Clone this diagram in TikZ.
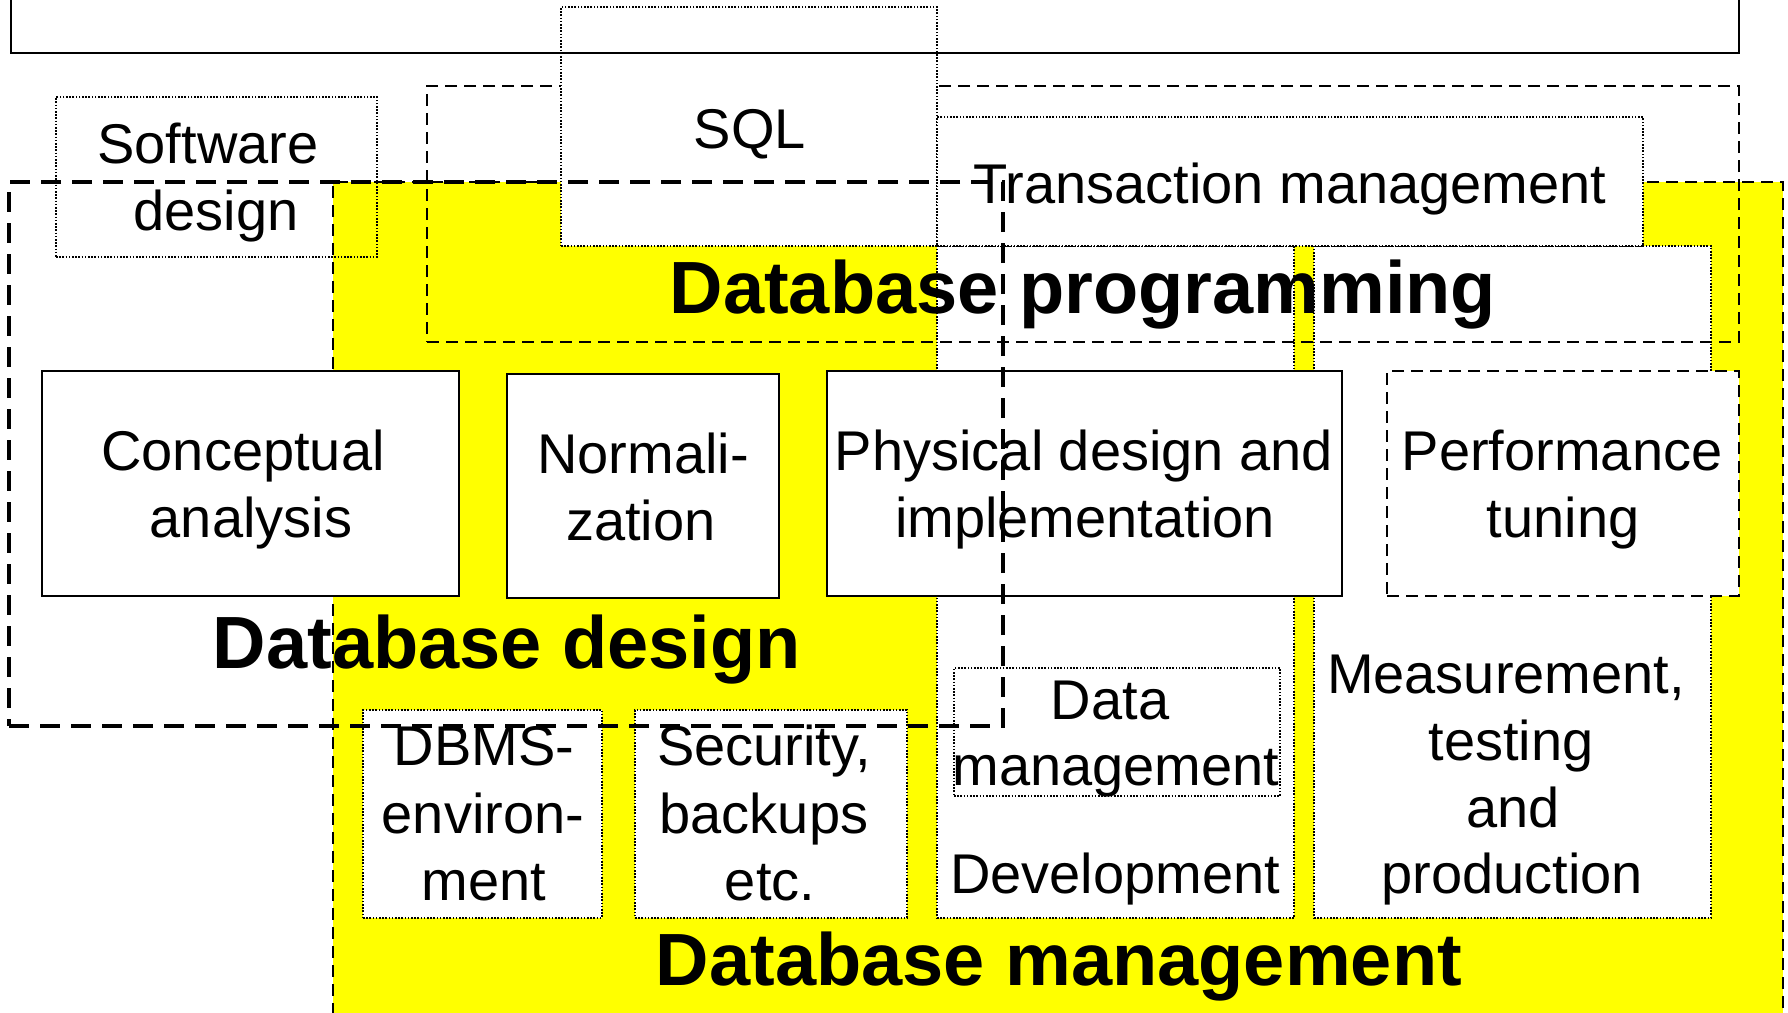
\documentclass[tikz,border=0pt]{standalone}
\usepackage{fontspec}
\setmainfont{Liberation Sans}
\usetikzlibrary{fit}
\definecolor{dbyellow}{RGB}{255,255,0}
\tikzset{
  boxbase/.style={inner sep=0pt, outer sep=0pt},
  dotbox/.style={boxbase, draw=black, line width=2.5pt, dash pattern=on 1.6pt off 1.6pt},
  thindash/.style={boxbase, draw=black, line width=2.6pt, dash pattern=on 12pt off 7pt},
  thickdash/.style={boxbase, draw=black, line width=3.3pt, dash pattern=on 20pt off 11pt},
  solidbox/.style={boxbase, draw=black, line width=2.8pt},
  wfill/.style={fill=white},
  txt/.style={inner sep=0pt, anchor=base, font=\fontsize{56}{67}\selectfont},
  ttl/.style={inner sep=0pt, anchor=base, font=\fontsize{74}{88}\selectfont\bfseries}
}
\begin{document}
\begin{tikzpicture}[x=1pt,y=-1pt]
\useasboundingbox[fill=white] (0,0) rectangle (1788,1012);
% Database management (yellow)
\node[thindash, fill=dbyellow, fit={(333,182) (1783,1040)}] (dbm) {};
% development / measurement columns
\node[dotbox, wfill, fit={(937,246) (1294,918)}] (dev) {};
\node[dotbox, wfill, fit={(1314,246) (1711,918)}] (meas) {};
% Database programming
\node[thindash, fit={(427,86) (1739,342)}] (dbprog) {};
% SQL and transaction management
\node[dotbox, wfill, fit={(561,7) (937,246)}] (sqlbox) {};
\node[dotbox, wfill, fit={(937,117) (1643,246)}] (tmbox) {};
% Data management
\node[dotbox, wfill, fit={(954,668) (1280,796)}] (dmbox) {};
% design boxes
\node[solidbox, wfill, fit={(42,371) (459,596)}] (cabox) {};
\node[solidbox, wfill, fit={(507,374) (779,598)}] (nobox) {};
\node[solidbox, wfill, fit={(827,371) (1342,596)}] (pdbox) {};
\node[thindash, wfill, fit={(1387,371) (1739,596)}] (ptbox) {};
% DBMS / security
\node[dotbox, wfill, fit={(363,710) (602,918)}] (dbmsbox) {};
\node[dotbox, wfill, fit={(635,710) (907,918)}] (secbox) {};
% Software design
\node[dotbox, fit={(56,97) (377,257)}] (swbox) {};
% top box
\node[solidbox, fit={(11,-30) (1739,53)}] (topbox) {};
% texts
\node[txt] (sw1) at (208,163) {Software};
\node[txt] (sw2) at (216,230) {design};
\node[txt] (sql) at (750,148) {SQL};
\node[txt] (tm) at (1290,203) {Transaction management};
\node[ttl] (dbptitle) at (1083,313) {Database programming};
\node[txt] (ca1) at (243,470) {Conceptual};
\node[txt] (ca2) at (251,537) {analysis};
\node[txt] (no1) at (643,473) {Normali-};
\node[txt] (no2) at (641,540) {zation};
\node[txt] (pd1) at (1084,470) {Physical design and};
\node[txt] (pd2) at (1085,537) {implementation};
\node[txt] (pt1) at (1562,470) {Performance};
\node[txt] (pt2) at (1563,537) {tuning};
\node[ttl] (dbdtitle) at (507,668) {Database design};
\node[txt] (dm1) at (1110,719) {Data};
\node[txt] (dm2) at (1116,785) {management};
\node[txt] (dev1) at (1115,893) {Development};
\node[txt] (me1) at (1506,693) {Measurement,};
\node[txt] (me2) at (1511,760) {testing};
\node[txt] (me3) at (1513,827) {and};
\node[txt] (me4) at (1512,893) {production};
\node[txt] (db1) at (484,765) {DBMS-};
\node[txt] (db2) at (483,833) {environ-};
\node[txt] (db3) at (484,900) {ment};
\node[txt] (se1) at (764,765) {Security,};
\node[txt] (se2) at (764,833) {backups};
\node[txt] (se3) at (770,900) {etc.};
\node[ttl] (dbmtitle) at (1059,985) {Database management};
% Database design (on top)
\node[thickdash, fit={(9,182) (1003,726)}] (dbdbox) {};
\end{tikzpicture}
\end{document}
